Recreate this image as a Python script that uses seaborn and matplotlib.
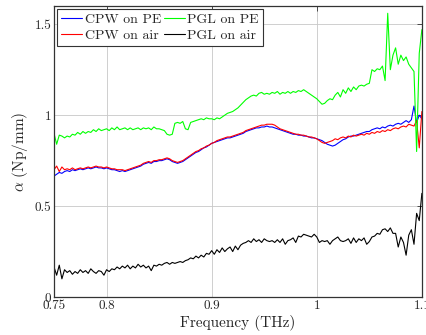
import numpy as np
import pandas as pd
import matplotlib
matplotlib.use("Agg")
import matplotlib.pyplot as plt
import seaborn as sns

# frequency grid (THz), step 0.0025
freq = np.round(np.arange(0.75, 1.10001, 0.0025), 4)

cpw_pe = [
    0.665, 0.675, 0.685, 0.68, 0.69, 0.695, 0.69, 0.70, 0.695, 0.70,
    0.705, 0.70, 0.705, 0.71, 0.705, 0.71, 0.715, 0.71, 0.71, 0.705,
    0.71, 0.705, 0.70, 0.70, 0.695, 0.69, 0.695, 0.69, 0.695, 0.70,
    0.705, 0.71, 0.715, 0.72, 0.73, 0.735, 0.74, 0.735, 0.745, 0.745,
    0.75, 0.75, 0.755, 0.76, 0.755, 0.745, 0.74, 0.735, 0.74, 0.745,
    0.755, 0.765, 0.775, 0.785, 0.795, 0.80, 0.81, 0.82, 0.825, 0.835,
    0.845, 0.85, 0.855, 0.86, 0.865, 0.87, 0.875, 0.875, 0.88, 0.885,
    0.89, 0.895, 0.90, 0.91, 0.915, 0.92, 0.925, 0.93, 0.93, 0.935,
    0.935, 0.94, 0.935, 0.935, 0.93, 0.925, 0.92, 0.915, 0.91, 0.905,
    0.90, 0.895, 0.895, 0.89, 0.89, 0.885, 0.885, 0.88, 0.875, 0.875,
    0.87, 0.865, 0.86, 0.85, 0.84, 0.835, 0.83, 0.835, 0.845, 0.855,
    0.865, 0.87, 0.88, 0.885, 0.885, 0.89, 0.895, 0.90, 0.905, 0.91,
    0.91, 0.92, 0.925, 0.93, 0.925, 0.935, 0.93, 0.94, 0.945, 0.94,
    0.95, 0.955, 0.95, 0.96, 0.97, 0.96, 0.975, 1.05, 0.96, 1.0,
    0.98,
]

cpw_air = [
    0.70, 0.72, 0.69, 0.715, 0.70, 0.705, 0.70, 0.71, 0.70, 0.705,
    0.71, 0.705, 0.71, 0.715, 0.71, 0.715, 0.72, 0.715, 0.715, 0.71,
    0.715, 0.71, 0.705, 0.705, 0.70, 0.70, 0.70, 0.695, 0.70, 0.705,
    0.71, 0.715, 0.72, 0.725, 0.735, 0.74, 0.745, 0.74, 0.75, 0.75,
    0.755, 0.755, 0.76, 0.765, 0.76, 0.75, 0.745, 0.74, 0.745, 0.75,
    0.76, 0.77, 0.78, 0.79, 0.80, 0.805, 0.815, 0.82, 0.83, 0.835,
    0.845, 0.85, 0.86, 0.865, 0.87, 0.875, 0.88, 0.88, 0.885, 0.89,
    0.895, 0.90, 0.905, 0.915, 0.92, 0.925, 0.93, 0.935, 0.94, 0.945,
    0.945, 0.95, 0.95, 0.95, 0.945, 0.935, 0.925, 0.92, 0.915, 0.91,
    0.905, 0.90, 0.895, 0.895, 0.89, 0.89, 0.885, 0.88, 0.88, 0.875,
    0.87, 0.86, 0.85, 0.845, 0.85, 0.855, 0.86, 0.87, 0.865, 0.875,
    0.88, 0.875, 0.885, 0.88, 0.89, 0.885, 0.89, 0.895, 0.89, 0.90,
    0.895, 0.905, 0.90, 0.91, 0.905, 0.915, 0.91, 0.92, 0.915, 0.925,
    0.93, 0.925, 0.935, 0.94, 0.935, 0.95, 0.945, 0.94, 0.97, 0.82,
    1.02,
]

pgl_pe = [
    0.90, 0.84, 0.89, 0.885, 0.875, 0.885, 0.88, 0.895, 0.89, 0.905,
    0.895, 0.91, 0.90, 0.91, 0.905, 0.92, 0.91, 0.925, 0.915, 0.92,
    0.925, 0.915, 0.93, 0.92, 0.935, 0.92, 0.925, 0.93, 0.92, 0.93,
    0.92, 0.925, 0.93, 0.92, 0.93, 0.925, 0.93, 0.92, 0.935, 0.925,
    0.925, 0.92, 0.915, 0.895, 0.89, 0.895, 0.955, 0.96, 0.955, 0.965,
    0.925, 0.92, 0.96, 0.965, 0.97, 0.975, 0.98, 0.975, 0.985, 0.98,
    0.98, 0.975, 0.985, 0.98, 0.99, 1.0, 1.01, 1.015, 1.02, 1.03,
    1.04, 1.055, 1.07, 1.085, 1.095, 1.105, 1.11, 1.105, 1.12, 1.125,
    1.115, 1.12, 1.115, 1.125, 1.12, 1.13, 1.115, 1.125, 1.12, 1.13,
    1.12, 1.13, 1.125, 1.135, 1.13, 1.14, 1.13, 1.12, 1.11, 1.10,
    1.09, 1.075, 1.06, 1.065, 1.08, 1.09, 1.085, 1.11, 1.125, 1.10,
    1.14, 1.12, 1.15, 1.13, 1.155, 1.14, 1.16, 1.165, 1.16, 1.17,
    1.175, 1.25, 1.24, 1.255, 1.25, 1.27, 1.19, 1.56, 1.25, 1.33,
    1.37, 1.28, 1.33, 1.30, 1.32, 1.28, 1.26, 1.24, 0.80, 1.34,
    1.47,
]

pgl_air = [
    0.165, 0.12, 0.175, 0.10, 0.15, 0.135, 0.145, 0.125, 0.14, 0.13,
    0.15, 0.135, 0.145, 0.13, 0.155, 0.14, 0.13, 0.145, 0.14, 0.12,
    0.15, 0.14, 0.155, 0.15, 0.165, 0.155, 0.17, 0.16, 0.175, 0.155,
    0.17, 0.16, 0.18, 0.165, 0.175, 0.16, 0.17, 0.145, 0.175, 0.17,
    0.18, 0.175, 0.185, 0.19, 0.18, 0.19, 0.185, 0.19, 0.195, 0.19,
    0.20, 0.205, 0.215, 0.21, 0.225, 0.215, 0.23, 0.22, 0.24, 0.235,
    0.255, 0.235, 0.26, 0.245, 0.27, 0.25, 0.265, 0.275, 0.25, 0.28,
    0.26, 0.285, 0.295, 0.30, 0.31, 0.30, 0.32, 0.305, 0.315, 0.30,
    0.32, 0.31, 0.305, 0.31, 0.30, 0.315, 0.30, 0.32, 0.29, 0.31,
    0.315, 0.325, 0.30, 0.335, 0.33, 0.345, 0.34, 0.335, 0.33, 0.345,
    0.33, 0.30, 0.31, 0.305, 0.31, 0.29, 0.31, 0.32, 0.33, 0.31,
    0.305, 0.31, 0.32, 0.295, 0.325, 0.30, 0.32, 0.31, 0.325, 0.29,
    0.305, 0.33, 0.335, 0.35, 0.345, 0.37, 0.375, 0.36, 0.38, 0.35,
    0.35, 0.275, 0.33, 0.30, 0.23, 0.34, 0.37, 0.29, 0.46, 0.42,
    0.57,
]

series_names = ["CPW on PE", "CPW on air", "PGL on PE", "PGL on air"]
series_vals = [cpw_pe, cpw_air, pgl_pe, pgl_air]
series_colors = ["#0000ff", "#ff0000", "#00ff00", "#000000"]

xticks = [0.75, 0.8, 0.9, 1.0, 1.1]
xticklabels = ["0.75", "0.8", "0.9", "1", "1.1"]
yticks = [0, 0.5, 1.0, 1.5]
yticklabels = ["0", "0.5", "1", "1.5"]

sns.set_theme(style="white")
plt.rcParams["font.family"] = ["cmr10", "DejaVu Serif"]
plt.rcParams["mathtext.fontset"] = "cm"
plt.rcParams["axes.formatter.use_mathtext"] = True

df = pd.concat(
    [pd.DataFrame({"freq": freq, "alpha": v, "series": n})
     for n, v in zip(series_names, series_vals)],
    ignore_index=True,
)

fig = plt.figure(figsize=(4.27, 3.35), dpi=100)
ax = fig.add_axes([0.1265, 0.1134, 0.8615, 0.8686])

sns.lineplot(data=df, x="freq", y="alpha", hue="series",
             hue_order=series_names, palette=series_colors,
             linewidth=0.8, ax=ax, estimator=None, sort=False)

ax.set_xlim(0.75, 1.1)
ax.set_ylim(0, 1.6)
ax.set_xticks(xticks)
ax.set_xticklabels(xticklabels)
ax.set_yticks(yticks)
ax.set_yticklabels(yticklabels)
ax.grid(True, color="#c8c8c8", linewidth=0.6)
ax.set_axisbelow(True)
ax.tick_params(direction="in", top=True, right=True, length=3.5,
               width=0.6, color="#333333", labelsize=9.5, pad=2)
for s in ax.spines.values():
    s.set_color("#333333")
    s.set_linewidth(0.9)

ax.set_xlabel("Frequency (THz)", fontsize=11, labelpad=2)
ax.set_ylabel(r"$\alpha$ (Np/mm)", fontsize=11, labelpad=3)

leg = ax.legend(loc="upper left", ncol=2, fontsize=10, frameon=True,
                fancybox=False, edgecolor="#333333", framealpha=1,
                handlelength=1.5, handletextpad=0.2, columnspacing=0.2,
                labelspacing=0.25, borderpad=0.3, borderaxespad=0.2)
leg.get_frame().set_linewidth(0.8)

fig.savefig("out.png", dpi=100)
